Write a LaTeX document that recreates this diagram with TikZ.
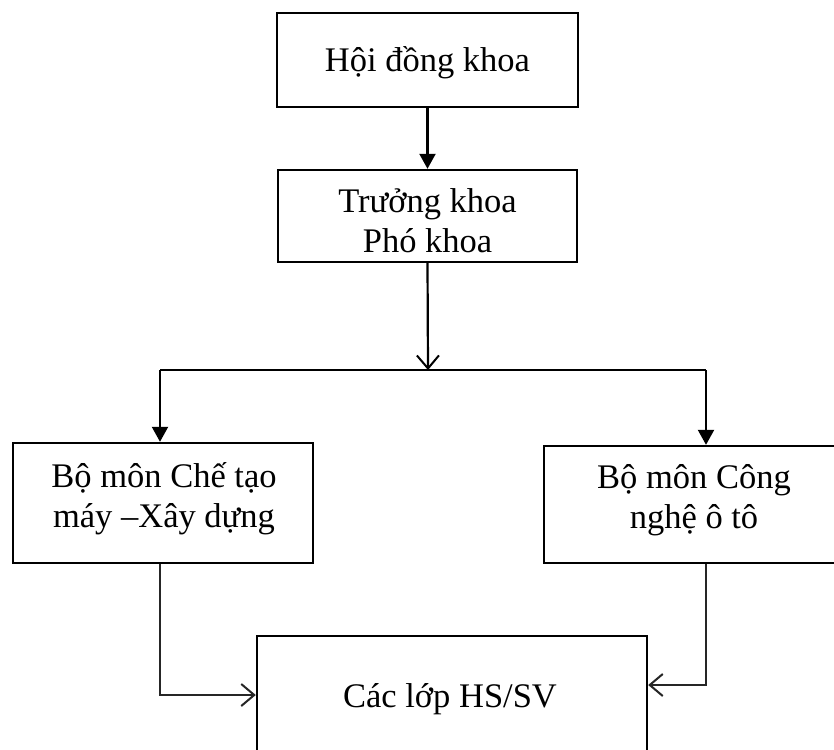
\documentclass[tikz,border=0pt]{standalone}
\usepackage{fontspec}
\setmainfont{Liberation Serif}
\usetikzlibrary{arrows.meta}
\begin{document}
\begin{tikzpicture}[x=1pt,y=-1pt,
  box/.style={draw=black,line width=2.4pt,rectangle,inner sep=0pt,minimum width=#1},
  txt/.style={font=\fontsize{34.5}{39.5}\selectfont,align=center,anchor=base,inner sep=0pt},
  link/.style={line width=2.2pt,black},
  filltip/.style={-{Triangle[length=15pt,width=16pt]}},
  vtip/.style={-{Straight Barb[length=13pt,width=22pt,line width=2pt]}},
  feed/.style={line width=1.6pt,black!85}]
\useasboundingbox (0,0) rectangle (834,749);
\clip (0,0) rectangle (834,749);
\fill[white] (0,0) rectangle (834,749);
% boxes
\node[box=301pt,minimum height=94pt] (hd) at (427.5,60) {};
\node[box=299pt,minimum height=92pt] (tk) at (427.5,216) {};
\node[box=300pt,minimum height=120pt] (lb) at (163,503) {};
\node[box=300pt,minimum height=117pt] (rb) at (694,504.5) {};
\node[box=390pt,minimum height=140pt] (cl) at (452,706) {};
% texts (base anchor = baseline of last line)
\node[txt] (thd) at (427.5,72) {Hội đồng khoa};
\node[txt] (ttk) at (427.5,252) {Trưởng khoa\\Phó khoa};
\node[txt] (tlb) at (164,527) {Bộ môn Chế tạo\\máy –Xây dựng};
\node[txt] (trb) at (694,528) {Bộ môn Công\\nghệ ô tô};
\node[txt] (tcl) at (450,707) {Các lớp HS/SV};
% bus
\coordinate (bus) at (428,370);
\coordinate (busL) at (160,370);
\coordinate (busR) at (706,370);
\draw[link,filltip] (hd.south) -- (tk.north);
\draw[link,vtip] (tk.south) -- (bus);
\draw[link] (busL) -- (busR);
\draw[link,filltip] (busL) -- (busL |- lb.north);
\draw[link,filltip] (busR) -- (busR |- rb.north);
% feeders
\draw[feed,vtip] (lb.south -| busL) |- ([yshift=11pt]cl.west);
\draw[feed,vtip] (rb.south -| busR) |- ([yshift=21pt]cl.east);
\end{tikzpicture}
\end{document}
